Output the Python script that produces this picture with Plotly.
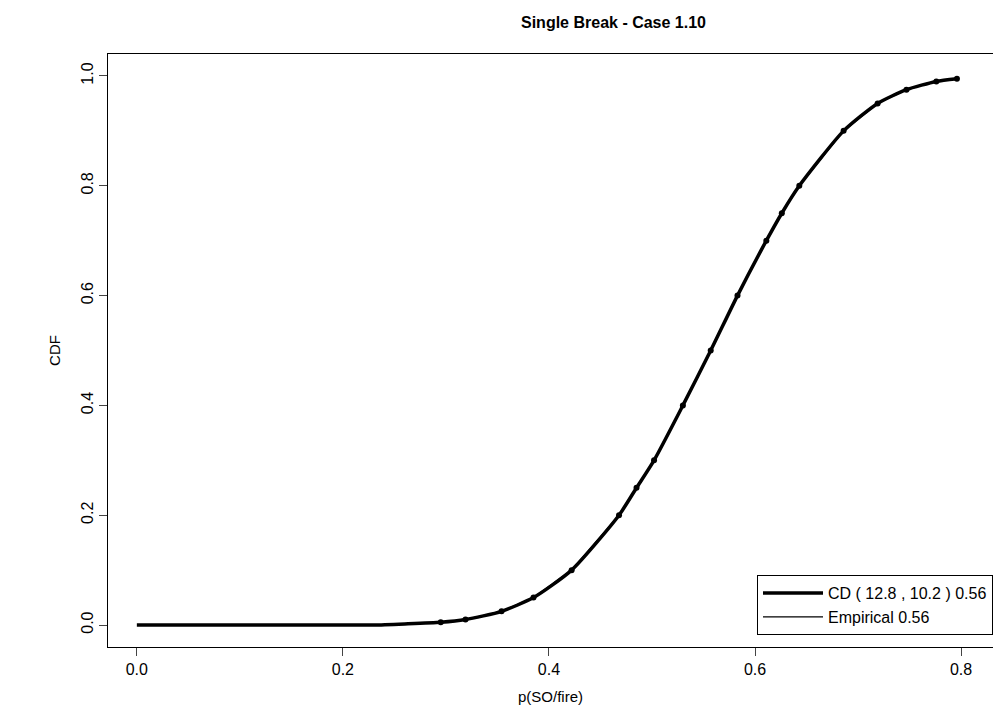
import plotly.graph_objects as go

# empirical quantiles (p values) at these cdf levels
cdf_levels = [0.005, 0.01, 0.025, 0.05, 0.1, 0.2, 0.25, 0.3, 0.4, 0.5,
              0.6, 0.7, 0.75, 0.8, 0.9, 0.95, 0.975, 0.99, 0.995]
emp_p = [0.295, 0.319, 0.354, 0.385, 0.422, 0.468, 0.485, 0.502, 0.530, 0.557,
         0.583, 0.611, 0.626, 0.643, 0.686, 0.719, 0.747, 0.776, 0.796]

# fitted CD curve
cd_p = [0.0, 0.10, 0.20, 0.23, 0.26, 0.295, 0.319, 0.354, 0.385, 0.422, 0.468, 0.485,
        0.502, 0.530, 0.557, 0.583, 0.611, 0.626, 0.643, 0.686, 0.719, 0.747, 0.776, 0.796]
cd_cdf = [0.0, 0.0, 0.0, 0.0, 0.002, 0.005, 0.01, 0.025, 0.05, 0.1, 0.2, 0.25,
          0.3, 0.4, 0.5, 0.6, 0.7, 0.75, 0.8, 0.9, 0.95, 0.975, 0.99, 0.995]

font = "Liberation Sans, Arial, sans-serif"
L, R, T, B = 100, 16, 46, 86
W, H = 1001, 725

fig = go.Figure()
fig.add_trace(go.Scatter(x=cd_p, y=cd_cdf, mode="lines", name="CD ( 12.8 , 10.2 ) 0.56",
                         line=dict(color="black", width=3.5, shape="spline", smoothing=0.6)))
fig.add_trace(go.Scatter(x=emp_p, y=cdf_levels, mode="lines", name="Empirical 0.56",
                         line=dict(color="black", width=1.3)))
fig.add_trace(go.Scatter(x=emp_p, y=cdf_levels, mode="markers", showlegend=False,
                         marker=dict(color="black", size=6)))

fig.update_layout(
    width=W, height=H,
    paper_bgcolor="white", plot_bgcolor="white",
    margin=dict(l=L, r=R, t=T, b=B),
    font=dict(family=font, size=16, color="black"),
    legend=dict(x=1.0, y=0.02, xanchor="right", yanchor="bottom",
                bordercolor="black", borderwidth=1, bgcolor="white",
                font=dict(size=16), tracegroupgap=0, itemwidth=60),
    annotations=[dict(text="<b>Single Break - Case 1.10</b>",
                      x=(700 - L) / (W - L - R), y=1 + (T - 14) / (H - T - B),
                      xref="paper", yref="paper", showarrow=False,
                      yanchor="middle", font=dict(size=16))],
)
fig.update_xaxes(range=[-0.028, 0.831], tickvals=[0, 0.2, 0.4, 0.6, 0.8],
                 ticktext=["0.0", "0.2", "0.4", "0.6", "0.8"],
                 showgrid=False, zeroline=False, showline=True, mirror=True,
                 linecolor="black", linewidth=1, ticks="outside", ticklen=8,
                 title=dict(text="p(SO/fire)", standoff=14, font=dict(size=15)))
fig.update_yaxes(range=[-0.04, 1.04], tickvals=[0, 0.2, 0.4, 0.6, 0.8, 1.0],
                 ticktext=["0.0", "0.2", "0.4", "0.6", "0.8", "1.0"], tickangle=-90,
                 showgrid=False, zeroline=False, showline=True, mirror=True,
                 linecolor="black", linewidth=1, ticks="outside", ticklen=8,
                 title=dict(text="CDF", standoff=14, font=dict(size=15)))

fig.write_html("out.html")
